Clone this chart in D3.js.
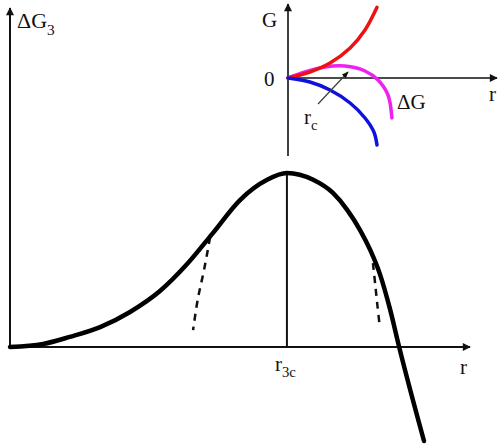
<!DOCTYPE html>
<html>
<head>
<meta charset="utf-8">
<script src="https://cdn.jsdelivr.net/npm/d3@7"></script>
<style>
  body { margin: 0; background: #fff; }
  svg { display: block; font-family: "Liberation Serif", "DejaVu Serif", serif; }
</style>
</head>
<body>
<svg id="chart"></svg>
<script>
var width = 498,
	height = 444;

// main curve: ΔG3 vs r
var mainR  = [0, 0.72, 1.30, 1.96, 2.61, 3.26, 3.85, 4.41, 5.00, 5.59, 6.02, 6.59, 7.02, 7.33, 7.61, 7.83, 8.04, 8.26, 8.46, 9.00];
var mainG3 = [0, 0.09, 0.30, 0.59, 1.04, 1.66, 2.46, 3.38, 4.36, 4.96, 5.16, 4.96, 4.57, 4.07, 3.47, 2.88, 2.17, 1.13, 0, -2.79];
var rc3 = 6.02;

// dashed branches
var dashLeftR  = [4.35, 4.22, 4.08, 3.98];
var dashLeftG  = [3.26, 2.30, 1.40, 0.50];
var dashRightR = [7.89, 7.94, 7.99, 8.04];
var dashRightG = [2.49, 1.85, 1.20, 0.59];

// inset curves: G vs r
var redR  = [0, 1.06, 2.03, 3.00, 3.72, 4.30];
var redG  = [0, 0.86, 2.14, 4.29, 6.86, 10.1];
var magR  = [0, 0.82, 1.79, 2.75, 3.72, 4.35, 4.83, 5.02];
var magG  = [0, 0.86, 1.57, 1.71, 1.00, -0.29, -2.43, -5.71];
var blueR = [0, 1.06, 2.03, 3.00, 3.72, 4.15, 4.30];
var blueG = [0, -0.57, -1.71, -3.57, -5.71, -7.71, -9.57];
var pointerR = [1.45, 2.90];
var pointerG = [-3.71, 0.86];

var svg = d3.select("#chart").attr("width", width).attr("height", height);

var defs = svg.append("defs");
defs.append("marker")
	.attr("id", "arr")
	.attr("viewBox", "0 0 10 10")
	.attr("refX", 9).attr("refY", 5)
	.attr("markerWidth", 7).attr("markerHeight", 7)
	.attr("markerUnits", "userSpaceOnUse")
	.attr("orient", "auto")
	.append("path").attr("d", "M0,1 L10,5 L0,9 Z").attr("fill", "#111");
defs.append("marker")
	.attr("id", "arrBig")
	.attr("viewBox", "0 0 10 10")
	.attr("refX", 9).attr("refY", 5)
	.attr("markerWidth", 14).attr("markerHeight", 8)
	.attr("markerUnits", "userSpaceOnUse")
	.attr("orient", "auto")
	.append("path").attr("d", "M0,0 L10,5 L0,10 Z").attr("fill", "#111");

// main scales
var x = d3.scaleLinear().domain([0, 10]).range([10, 470]);
var y = d3.scaleLinear().domain([0, 10]).range([347, 10]);

// inset scales
var ix = d3.scaleLinear().domain([0, 10]).range([288, 495]);
var iy = d3.scaleLinear().domain([-10, 10]).range([148, 8]);

function zip(a, b) { return a.map(function(v, i){ return [v, b[i]]; }); }

var mainLine = d3.line()
	.x(function(d){ return x(d[0]); })
	.y(function(d){ return y(d[1]); })
	.curve(d3.curveMonotoneX);
var dashLine = d3.line()
	.x(function(d){ return x(d[0]); })
	.y(function(d){ return y(d[1]); })
	.curve(d3.curveCatmullRom.alpha(0.5));
var insetLine = d3.line()
	.x(function(d){ return ix(d[0]); })
	.y(function(d){ return iy(d[1]); })
	.curve(d3.curveCatmullRom.alpha(0.5));

// main axes
svg.append("line")
	.attr("x1", x(0)).attr("y1", y(0) + 1).attr("x2", x(0)).attr("y2", 8)
	.attr("stroke", "#111").attr("stroke-width", 2)
	.attr("marker-end", "url(#arrBig)");
svg.append("line")
	.attr("x1", x(0)).attr("y1", y(0)).attr("x2", 470).attr("y2", y(0))
	.attr("stroke", "#111").attr("stroke-width", 2)
	.attr("marker-end", "url(#arrBig)");

// r3c vertical line
svg.append("line")
	.attr("x1", x(rc3)).attr("y1", y(0)).attr("x2", x(rc3)).attr("y2", y(5.16))
	.attr("stroke", "#111").attr("stroke-width", 2);

// dashed branches
[[dashLeftR, dashLeftG], [dashRightR, dashRightG]].forEach(function(p){
	svg.append("path")
		.attr("d", dashLine(zip(p[0], p[1])))
		.attr("fill", "none").attr("stroke", "#111")
		.attr("stroke-width", 2.5).attr("stroke-dasharray", "7,6");
});

// main curve
svg.append("path")
	.attr("d", mainLine(zip(mainR, mainG3)))
	.attr("fill", "none").attr("stroke", "#000")
	.attr("stroke-width", 4.5).attr("stroke-linecap", "round");

// inset axes
svg.append("line")
	.attr("x1", ix(0)).attr("y1", 156).attr("x2", ix(0)).attr("y2", 4)
	.attr("stroke", "#111").attr("stroke-width", 1.6)
	.attr("marker-end", "url(#arrBig)");
svg.append("line")
	.attr("x1", ix(0)).attr("y1", iy(0)).attr("x2", 497).attr("y2", iy(0))
	.attr("stroke", "#111").attr("stroke-width", 1.6)
	.attr("marker-end", "url(#arrBig)");

// inset curves
[[magR, magG, "#ee22ee"], [redR, redG, "#ee1111"], [blueR, blueG, "#1111dd"]].forEach(function(c){
	svg.append("path")
		.attr("d", insetLine(zip(c[0], c[1])))
		.attr("fill", "none").attr("stroke", c[2])
		.attr("stroke-width", 3.5).attr("stroke-linecap", "round");
});

// rc pointer
svg.append("line")
	.attr("x1", ix(pointerR[0])).attr("y1", iy(pointerG[0]))
	.attr("x2", ix(pointerR[1])).attr("y2", iy(pointerG[1]))
	.attr("stroke", "#334433").attr("stroke-width", 1.2)
	.attr("marker-end", "url(#arr)");

// labels
function label(tx, ty, main, sub, size) {
	var t = svg.append("text").attr("x", tx).attr("y", ty)
		.attr("font-size", size).attr("fill", "#111");
	t.append("tspan").text(main);
	if (sub) {
		t.append("tspan").attr("dy", size * 0.3).attr("font-size", size * 0.7).text(sub);
	}
	return t;
}
label(17, 28, "ΔG", "3", 22);
label(460, 374, "r", null, 21);
label(275, 371, "r", "3c", 21);
label(262, 27, "G", null, 21);
label(264, 86, "0", null, 21);
label(397, 109, "ΔG", null, 21);
label(304, 124, "r", "c", 21);
label(489, 101, "r", null, 21);
</script>
</body>
</html>
